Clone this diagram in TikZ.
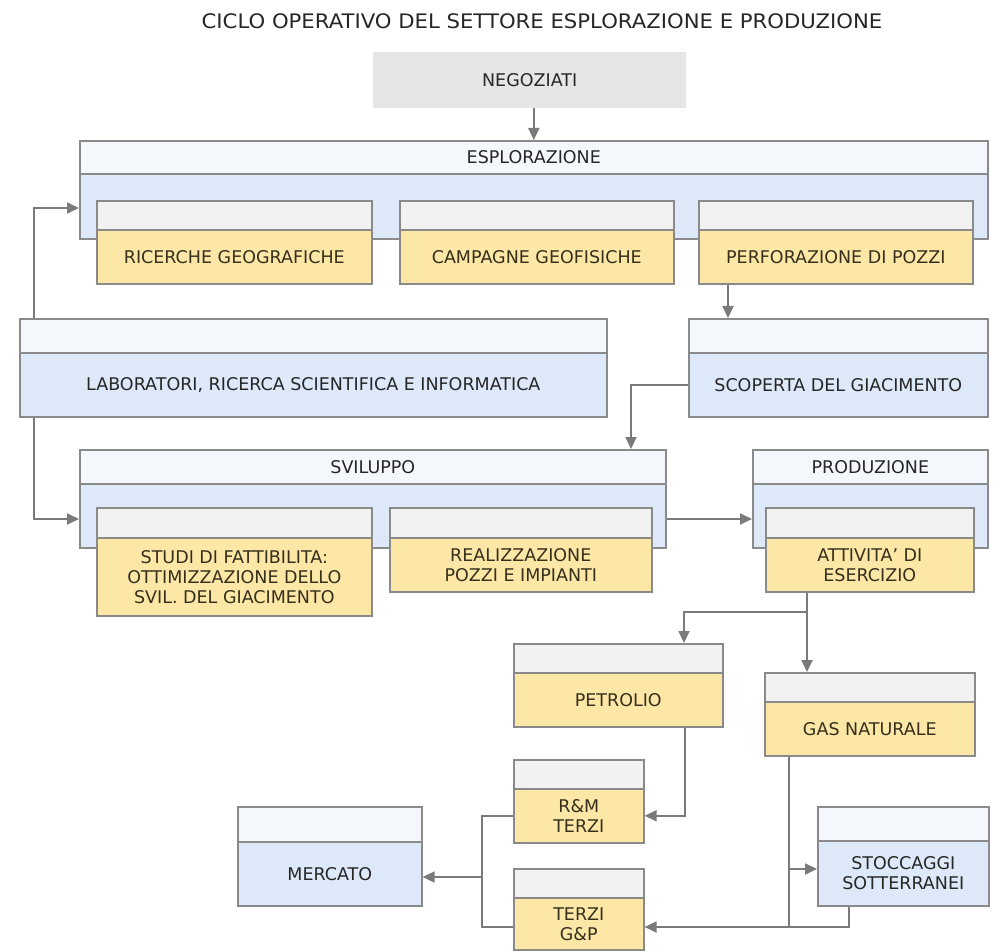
\documentclass[tikz,border=0pt]{standalone}
\usepackage{fontspec}
\setmainfont{DejaVu Sans}
\newfontfamily\titlefont[FakeStretch=1.06]{DejaVu Sans}
\usetikzlibrary{arrows.meta,calc}
\definecolor{hdrblue}{HTML}{F4F8FD}
\definecolor{bodyblue}{HTML}{DDE9F8}
\definecolor{hdrgray}{HTML}{F2F2F0}
\definecolor{yellowc}{HTML}{FCE7A6}
\definecolor{bordercol}{HTML}{8A8A8A}
\definecolor{negcol}{HTML}{E6E6E6}
\definecolor{arrowcol}{HTML}{7A7A7A}
\definecolor{txtcol}{HTML}{262626}
\definecolor{ytxtcol}{HTML}{352F1C}
\tikzset{
  boxbase/.style={draw=bordercol, line width=1.6pt, anchor=north west, inner sep=0pt,
    align=center, text=txtcol, font=\fontsize{17.5}{20}\selectfont},
  hdblue/.style={boxbase, fill=hdrblue},
  bdblue/.style={boxbase, fill=bodyblue},
  hdyellow/.style={boxbase, fill=hdrgray},
  bdyellow/.style={boxbase, fill=yellowc, text=ytxtcol},
  conn/.style={draw=arrowcol, line width=1.8pt},
  arr/.style={conn, -{Triangle[length=12pt,width=11pt]}},
}
% name, x1, y1, ysplit, x2, y2, style, header text, body text
\newcommand{\mkpanel}[9]{%
  \pgfmathsetmacro\pw{#5-#2}%
  \pgfmathsetmacro\ph{#4-#3}%
  \pgfmathsetmacro\pb{#6-#4}%
  \node[hd#7, minimum width=\pw pt, minimum height=\ph pt] (#1h) at (#2,#3) {#8};
  \node[bd#7, minimum width=\pw pt, minimum height=\pb pt] (#1) at (#2,#4) {#9};
}
\begin{document}
\begin{tikzpicture}[x=1pt,y=-1pt]
\useasboundingbox (0,0) rectangle (994,952);
\fill[white] (0,0) rectangle (994,952);

\node[text=txtcol, font=\titlefont\fontsize{20}{23}\selectfont] (title) at (542,21)
  {CICLO OPERATIVO DEL SETTORE ESPLORAZIONE E PRODUZIONE};

\node[fill=negcol, minimum width=313pt, minimum height=56pt, anchor=north west,
  inner sep=0pt, text=txtcol, font=\fontsize{17.5}{20}\selectfont] (NEG) at (373,52) {NEGOZIATI};

\mkpanel{ESP}{79}{140}{173}{987}{238}{blue}{ESPLORAZIONE}{}
\mkpanel{RIC}{96}{200}{229}{371}{283}{yellow}{}{RICERCHE GEOGRAFICHE}
\mkpanel{CAM}{399}{200}{229}{673}{283}{yellow}{}{CAMPAGNE GEOFISICHE}
\mkpanel{PERF}{698}{200}{229}{972}{283}{yellow}{}{PERFORAZIONE DI POZZI}

\mkpanel{LAB}{19}{318}{352}{606}{416}{blue}{}{LABORATORI, RICERCA SCIENTIFICA E INFORMATICA}
\mkpanel{SCOP}{688}{318}{352}{987}{416}{blue}{}{SCOPERTA DEL GIACIMENTO}

\mkpanel{SVI}{79}{449}{483}{665}{547}{blue}{SVILUPPO}{}
\mkpanel{STUDI}{96}{507}{537}{371}{615}{yellow}{}{STUDI DI FATTIBILITA:\\OTTIMIZZAZIONE DELLO\\SVIL. DEL GIACIMENTO}
\mkpanel{REAL}{389}{507}{537}{651}{591}{yellow}{}{REALIZZAZIONE\\POZZI E IMPIANTI}

\mkpanel{PROD}{752}{449}{483}{987}{547}{blue}{PRODUZIONE}{}
\mkpanel{ATT}{765}{507}{537}{973}{591}{yellow}{}{ATTIVITA' DI\\ESERCIZIO}

\mkpanel{PET}{513}{643}{672}{722}{726}{yellow}{}{PETROLIO}
\mkpanel{GAS}{764}{672}{701}{974}{755}{yellow}{}{GAS NATURALE}
\mkpanel{RM}{513}{759}{788}{643}{842}{yellow}{}{R\&M\\TERZI}
\mkpanel{TGP}{513}{868}{897}{643}{949}{yellow}{}{TERZI\\G\&P}
\mkpanel{MERC}{237}{806}{841}{421}{905}{blue}{}{MERCATO}
\mkpanel{STOC}{817}{806}{840}{988}{905}{blue}{}{STOCCAGGI\\SOTTERRANEI}

% connectors
\draw[arr] (NEG.south -| ESPh.north) -- (ESPh.north);
\draw[arr] (34,0 |- LABh.north) |- (ESP.west |- 0,208);
\draw[arr] (34,0 |- LAB.south) |- (SVI.west |- 0,519);
\draw[arr] (728,0 |- PERF.south) -- (728,0 |- SCOPh.north);
\draw[arr] (SCOP.west) -| (631,0 |- SVIh.north);
\draw[arr] (SVI.east |- 0,519) -- (PROD.west |- 0,519);

\coordinate (j1) at (807,612);
\draw[arr] (807,0 |- ATT.south) -- (807,0 |- GASh.north);
\draw[arr] (j1) -| (684,0 |- PETh.north);
\draw[arr] (685,0 |- PET.south) |- (RM.east);

\coordinate (j2) at (789,869);
\coordinate (j3) at (789,927);
\draw[conn] (789,0 |- GAS.south) -- (j3);
\draw[arr] (j2) -- (STOC.west |- j2);
\draw[arr] (849,0 |- STOC.south) |- (TGP.east |- j3);

\coordinate (j4) at (482,877);
\draw[conn] (RM.west) -| (482,0 |- j3) -- (TGP.west |- j3);
\draw[arr] (j4) -- (MERC.east |- j4);
\end{tikzpicture}
\end{document}
